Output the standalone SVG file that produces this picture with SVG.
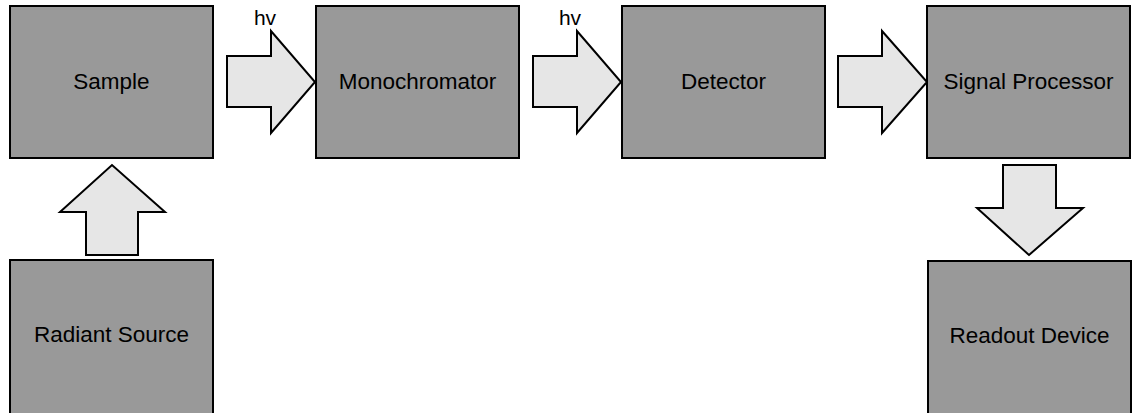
<svg xmlns="http://www.w3.org/2000/svg" width="1132" height="413" viewBox="0 0 1132 413">
<style>
.box{fill:#999999;stroke:#000;stroke-width:2}
.arrow{fill:#e6e6e6;stroke:#000;stroke-width:2;stroke-linejoin:miter}
.lbl{font-family:"Liberation Sans",Arial,sans-serif;font-size:22.5px;fill:#000;text-anchor:middle}
.hv{font-family:"Liberation Sans",Arial,sans-serif;font-size:21px;fill:#000;text-anchor:middle}
</style>
<rect width="1132" height="413" fill="#fff"/>
<g id="connectors">
<polygon class="arrow" points="227,56 271,56 271,31 315,82 271,133 271,107 227,107"/>
<polygon class="arrow" points="533,56 577,56 577,31 621,82 577,133 577,107 533,107"/>
<polygon class="arrow" points="838,56 882,56 882,31 927,82 882,133 882,107 838,107"/>
<polygon class="arrow" points="86,255 86,212 60,212 112,165 165,212 138,212 138,255"/>
<polygon class="arrow" points="1003,165 1056,165 1056,208 1083,208 1029,255 977,208 1003,208"/>
<text class="hv" x="265" y="25">hv</text>
<text class="hv" x="570" y="25">hv</text>
</g>
<g id="sample"><rect class="box" x="10" y="6" width="203" height="152"/><text class="lbl" x="111.5" y="89">Sample</text></g>
<g id="monochromator"><rect class="box" x="316" y="6" width="203" height="152"/><text class="lbl" x="417.5" y="89">Monochromator</text></g>
<g id="detector"><rect class="box" x="622" y="6" width="203" height="152"/><text class="lbl" x="723.5" y="89">Detector</text></g>
<g id="signal-processor"><rect class="box" x="927" y="6" width="203" height="152"/><text class="lbl" x="1028.5" y="89">Signal Processor</text></g>
<g id="radiant-source"><rect class="box" x="10" y="260" width="203" height="170"/><text class="lbl" x="111.5" y="342">Radiant Source</text></g>
<g id="readout-device"><rect class="box" x="928" y="261" width="203" height="170"/><text class="lbl" x="1029.5" y="343">Readout Device</text></g>
</svg>
